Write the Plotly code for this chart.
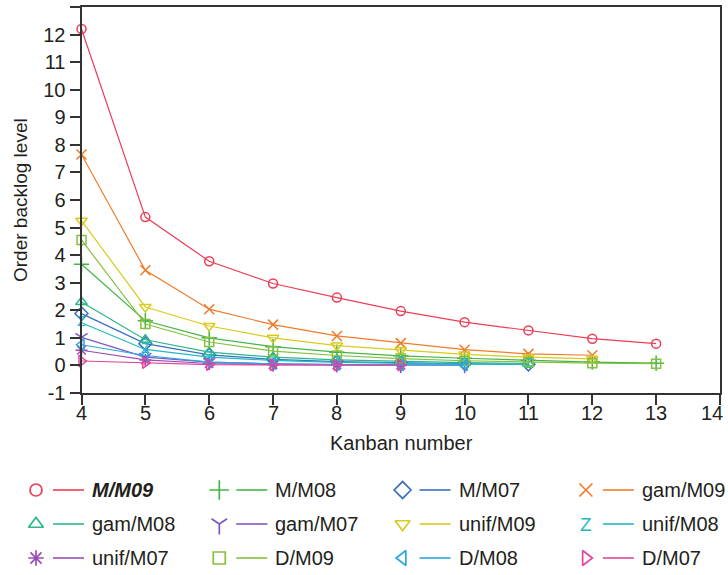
import plotly.graph_objects as go

# ---------------- data ----------------
kanban = [4, 5, 6, 7, 8, 9, 10, 11, 12, 13]
x_ticks = [4, 5, 6, 7, 8, 9, 10, 11, 12, 13, 14]
y_ticks = [-1, 0, 1, 2, 3, 4, 5, 6, 7, 8, 9, 10, 11, 12, 13]
y_ticklabels = ["-1", "0", "1", "2", "3", "4", "5", "6", "7", "8", "9", "10", "11", "12", ""]

series_names = ["M/M09", "M/M08", "M/M07", "gam/M09",
                "gam/M08", "gam/M07", "unif/M09", "unif/M08",
                "unif/M07", "D/M09", "D/M08", "D/M07"]

m_m09 = [12.2, 5.38, 3.78, 2.97, 2.46, 1.97, 1.57, 1.27, 0.97, 0.79]
m_m08 = [3.67, 1.62, 1.0, 0.68, 0.48, 0.35, 0.26, 0.19, 0.12, 0.08]
m_m07 = [1.88, 0.79, 0.38, 0.22, 0.14, 0.09, 0.06, 0.04]
gam_m09 = [7.65, 3.45, 2.04, 1.48, 1.07, 0.81, 0.57, 0.42, 0.37]
gam_m08 = [2.3, 0.93, 0.48, 0.3, 0.2, 0.14, 0.1, 0.07]
gam_m07 = [1.02, 0.3, 0.12, 0.06, 0.03, 0.02, 0.01]
unif_m09 = [5.25, 2.12, 1.43, 1.0, 0.72, 0.55, 0.4, 0.3, 0.24]
unif_m08 = [1.55, 0.58, 0.3, 0.18, 0.11, 0.07, 0.05, 0.03]
unif_m07 = [0.55, 0.2, 0.07, 0.03, 0.02, 0.01]
d_m09 = [4.55, 1.5, 0.85, 0.52, 0.36, 0.25, 0.17, 0.12, 0.08, 0.06]
d_m08 = [0.75, 0.36, 0.12, 0.06, 0.03, 0.02, 0.01]
d_m07 = [0.16, 0.1, 0.03, 0.02, 0.01, 0.01]

series_values = [m_m09, m_m08, m_m07, gam_m09,
                 gam_m08, gam_m07, unif_m09, unif_m08,
                 unif_m07, d_m09, d_m08, d_m07]

# ---------------- styles ----------------
colors = ["#EE3D55", "#45B549", "#3B6FC1", "#F07B2A",
          "#2DB68A", "#7E57C2", "#D9CB1E", "#22B8C4",
          "#9B4DB5", "#86C03F", "#29A8DF", "#E0479F"]
symbols = ["circle-open", "cross-thin-open", "diamond-open", "x-thin-open",
           "triangle-up-open", "y-down-open", "triangle-down-open", None,
           "asterisk-open", "square-open", "triangle-left-open", "triangle-right-open"]
sizes = [9, 11, 10, 10, 10, 10, 10, 0, 10, 9, 10, 10]

W, H = 728, 575
PL, PR, PT, PB = 81.5, 720.0, 7.0, 393.0
FONT = "Liberation Sans, Arial, sans-serif"
TXT = "#231f20"
AX = "#333333"

fig = go.Figure()

for name, vals, c, sym, sz in zip(series_names, series_values, colors, symbols, sizes):
    xs = kanban[:len(vals)]
    if sym is None:
        fig.add_trace(go.Scatter(
            x=xs, y=vals, mode="lines+text", text=["Z"] * len(vals),
            textposition="middle center",
            textfont=dict(family=FONT, size=14, color=c),
            line=dict(color=c, width=1.2), name=name, showlegend=False,
            cliponaxis=False))
    else:
        fig.add_trace(go.Scatter(
            x=xs, y=vals, mode="lines+markers",
            line=dict(color=c, width=1.2),
            marker=dict(symbol=sym, size=sz, color=c, line=dict(color=c, width=1.5)),
            name=name, showlegend=False, cliponaxis=False))

# ---------------- custom legend (pixel coordinates on overlay axes) ----------------
ann = []
shapes = []
for i, (name, c, sym, sz) in enumerate(zip(series_names, colors, symbols, sizes)):
    col, row = i % 4, i // 4
    mx = 36 + 183.3 * col
    my = 490 + 34 * row
    if sym is None:
        ann.append(dict(x=mx, y=my, xref="x2", yref="y2", text="Z", showarrow=False,
                        font=dict(family=FONT, size=19, color=c),
                        xanchor="center", yanchor="middle"))
    else:
        fig.add_trace(go.Scatter(
            x=[mx], y=[my], xaxis="x2", yaxis="y2", mode="markers",
            marker=dict(symbol=sym, size=sz + 3, color=c, line=dict(color=c, width=1.7)),
            showlegend=False, hoverinfo="skip"))
    shapes.append(dict(type="line", xref="x2", yref="y2",
                       x0=mx + 17, x1=mx + 48, y0=my, y1=my,
                       line=dict(color=c, width=1.6)))
    label = "<b><i>%s</i></b>" % name if i == 0 else name
    ann.append(dict(x=mx + 54, y=my, xref="x2", yref="y2", text=label, showarrow=False,
                    font=dict(family=FONT, size=20, color=TXT),
                    xanchor="left", yanchor="middle"))

# x tick labels, drawn just under the tick marks
for v in x_ticks:
    last = v == x_ticks[-1]
    ann.append(dict(x=v, y=413, xref="x", yref="y2", text=str(v), showarrow=False,
                    xshift=-8 if last else 0,
                    font=dict(family=FONT, size=20, color=TXT),
                    xanchor="center", yanchor="middle"))

# axis titles
ann.append(dict(x=401, y=443, xref="x2", yref="y2", text="Kanban number", showarrow=False,
                font=dict(family=FONT, size=20, color=TXT), xanchor="center", yanchor="middle"))
ann.append(dict(x=20, y=200, xref="x2", yref="y2", text="Order backlog level", showarrow=False,
                textangle=-90, font=dict(family=FONT, size=19, color=TXT),
                xanchor="center", yanchor="middle"))

fig.update_layout(
    width=W, height=H,
    margin=dict(l=0, r=0, t=0, b=0),
    paper_bgcolor="white", plot_bgcolor="rgba(0,0,0,0)",
    showlegend=False,
    font=dict(family=FONT, color=TXT),
    xaxis=dict(domain=[PL / W, PR / W], range=[4, 14], tickmode="array",
               tickvals=x_ticks, ticktext=[""] * len(x_ticks),
               ticks="outside", ticklen=10, tickwidth=1.5, tickcolor=AX,
               showline=True, linewidth=2, linecolor=AX, mirror=True,
               showgrid=False, zeroline=False, automargin=False,
               tickfont=dict(family=FONT, size=20, color=TXT)),
    yaxis=dict(domain=[(H - PB) / H, (H - PT) / H], range=[-1, 13], tickmode="array",
               tickvals=y_ticks, ticktext=y_ticklabels,
               ticks="outside", ticklen=10, tickwidth=1.5, tickcolor=AX,
               showline=True, linewidth=2, linecolor=AX, mirror=True,
               showgrid=False, zeroline=False, automargin=False,
               tickfont=dict(family=FONT, size=20, color=TXT)),
    xaxis2=dict(domain=[0, 1], range=[0, W], visible=False, anchor="y2", fixedrange=True),
    yaxis2=dict(domain=[0, 1], range=[H, 0], visible=False, anchor="x2", fixedrange=True),
    annotations=ann,
    shapes=shapes,
)

fig.write_html("out.html", config={"displayModeBar": False},
               post_script="document.body.style.margin='0px';document.body.style.padding='0px';")
